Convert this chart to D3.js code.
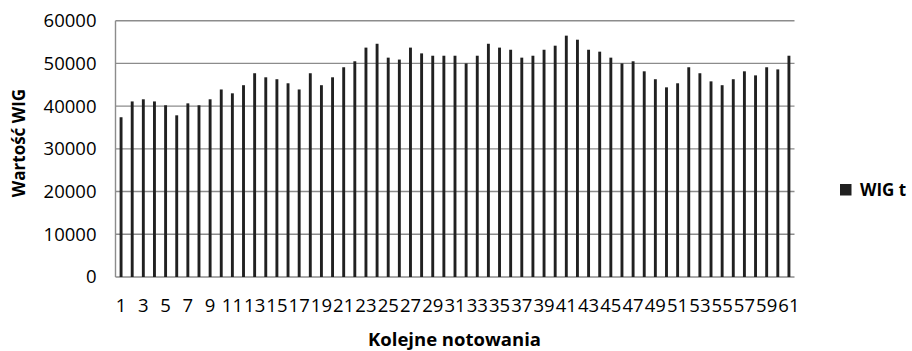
<!DOCTYPE html>
<html>
<head>
<meta charset="utf-8">
<script src="https://cdn.jsdelivr.net/npm/d3@7"></script>
<style>
html,body{margin:0;padding:0;background:#fff;}
svg{display:block;}
text{font-family:"Open Sans",sans-serif;fill:#000;}
</style>
</head>
<body>
<svg id="chart" width="912" height="351"></svg>
<script>
const categories = d3.range(1, 62).map(String);
const seriesName = "WIG t";
const wigValues = [
  37400, 41100, 41600, 41100, 40200, 37850, 40650, 40200, 41600, 43900,
  43000, 44900, 47700, 46750, 46300, 45350, 43900, 47700, 44900, 46750,
  49100, 50500, 53700, 54600, 51350, 50900, 53700, 52350, 51800, 51800,
  51800, 50000, 51800, 54600, 53700, 53200, 51350, 51800, 53200, 54150,
  56500, 55550, 53200, 52750, 51350, 50000, 50500, 48150, 46300, 44400,
  45350, 49100, 47700, 45800, 44900, 46300, 48150, 47200, 49100, 48600,
  51800
];
const yTicks = [0, 10000, 20000, 30000, 40000, 50000, 60000];
const xTickLabels = categories.filter((d, i) => i % 2 === 0);
const yTitle = "Wartość WIG";
const xTitle = "Kolejne notowania";

const svg = d3.select("#chart");
const pLeft = 115.5, pRight = 794.5, pTop = 20.7, pBottom = 277;

const x = d3.scaleBand().domain(categories).range([pLeft, pRight]).paddingInner(0.74).paddingOuter(0.37);
const y = d3.scaleLinear().domain([0, 60000]).range([pBottom, pTop]);

// gridlines
svg.append("g").selectAll("line").data(yTicks).join("line")
  .attr("x1", pLeft).attr("x2", pRight)
  .attr("y1", d => y(d)).attr("y2", d => y(d))
  .attr("stroke", "#8c8c8c").attr("stroke-width", 1.4);

// left axis line
svg.append("line").attr("x1", pLeft).attr("x2", pLeft).attr("y1", pTop).attr("y2", pBottom)
  .attr("stroke", "#8c8c8c").attr("stroke-width", 1.4);

// bars
svg.append("g").selectAll("rect").data(wigValues).join("rect")
  .attr("x", (d, i) => x(categories[i]))
  .attr("width", x.bandwidth())
  .attr("y", d => y(d))
  .attr("height", d => y(0) - y(d))
  .attr("fill", "#202020");

// y axis labels
const yAxis = d3.axisLeft(y).tickValues(yTicks).tickSize(0).tickPadding(19).tickFormat(d3.format("d"));
const gy = svg.append("g").attr("transform", `translate(${pLeft},0)`).call(yAxis);
gy.select(".domain").remove();
gy.selectAll("text").attr("font-size", 18.5).attr("font-family", "Open Sans, sans-serif").attr("fill", "#000");

// x axis labels
const xAxis = d3.axisBottom(x).tickValues(xTickLabels).tickSize(0).tickPadding(22);
const gx = svg.append("g").attr("transform", `translate(0,${pBottom})`).call(xAxis);
gx.select(".domain").remove();
gx.selectAll("text").attr("font-size", 18.5).attr("font-family", "Open Sans, sans-serif").attr("fill", "#000");

// titles
svg.append("text").attr("transform", "translate(25,143) rotate(-90)")
  .attr("text-anchor", "middle").attr("font-size", 17).attr("font-weight", "bold").text(yTitle);
svg.append("text").attr("x", 454.5).attr("y", 346)
  .attr("text-anchor", "middle").attr("font-size", 18.5).attr("font-weight", "bold").text(xTitle);

// legend
const lg = svg.append("g").attr("transform", "translate(840,184)");
lg.append("rect").attr("width", 11.5).attr("height", 11.5).attr("fill", "#202020");
lg.append("text").attr("x", 20).attr("y", 11.5).attr("font-size", 17).attr("font-weight", "bold").text(seriesName);
</script>
</body>
</html>
